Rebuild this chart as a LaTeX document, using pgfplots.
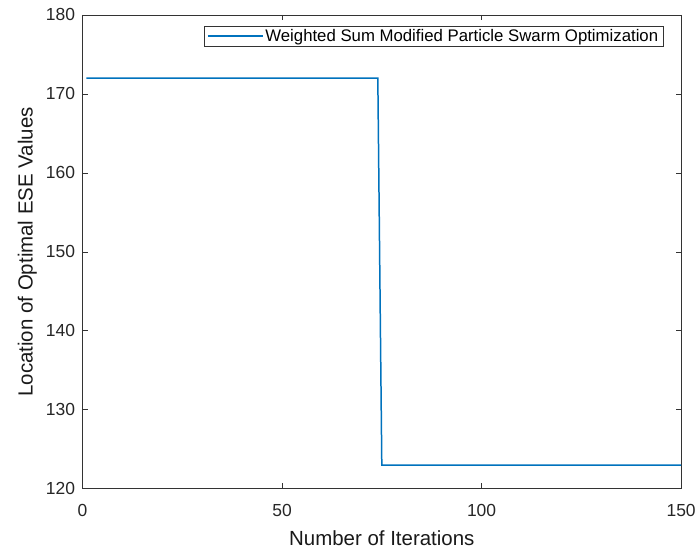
\documentclass[border=0pt]{standalone}
\usepackage{pgfplots}
\pgfplotsset{compat=1.18}
\usepackage{fontspec}
\setmainfont{Liberation Sans}
\definecolor{mblue}{RGB}{0,114,189}

\begin{document}
\begin{tikzpicture}
\begin{axis}[
    width=600pt, height=475pt,
    scale only axis,
    xmin=0, xmax=150,
    ymin=120, ymax=180,
    xtick={0,50,100,150},
    ytick={120,130,...,180},
    tick align=inside,
    major tick length=5.5pt,
    axis line style={black!80, line width=0.8pt},
    tick style={black!80, line width=0.8pt},
    every tick label/.append style={font=\fontsize{17.5}{20}\selectfont, text=black!85},
    /pgf/number format/assume math mode=true,
    xticklabel style={yshift=-12pt},
    yticklabel style={xshift=-4pt},
    xlabel={Number of Iterations},
    ylabel={Location of Optimal ESE Values},
    label style={font=\fontsize{20.5}{24}\selectfont, text=black!90},
    xlabel style={at={(axis description cs:0.5,0)}, anchor=base, yshift=-57pt},
    ylabel style={at={(axis description cs:0,0.5)}, anchor=base, yshift=50pt},
    legend style={at={(rel axis cs:1,1)}, anchor=north east,
        xshift=-17.7pt, yshift=-11pt,
        font=\fontsize{16.8}{19}\selectfont, draw=black!80, line width=0.6pt,
        inner xsep=3pt, inner ysep=1pt, legend cell align=left},
    legend image code/.code={\draw[#1, line width=1.5pt] (0pt,0pt) -- (55pt,0pt);},
]
\addplot[mblue, line width=1.5pt, sharp plot] coordinates {
    (1,172) (74,172) (75,123) (150,123)
};
\addlegendentry{Weighted Sum Modified Particle Swarm Optimization}
\path (rel axis cs:0,0) ++(-82.7pt,-58pt) coordinate (bbA);
\path (rel axis cs:1,1) ++(16.3pt,15pt) coordinate (bbB);
\end{axis}
\useasboundingbox (bbA) rectangle (bbB);
\end{tikzpicture}
\end{document}
